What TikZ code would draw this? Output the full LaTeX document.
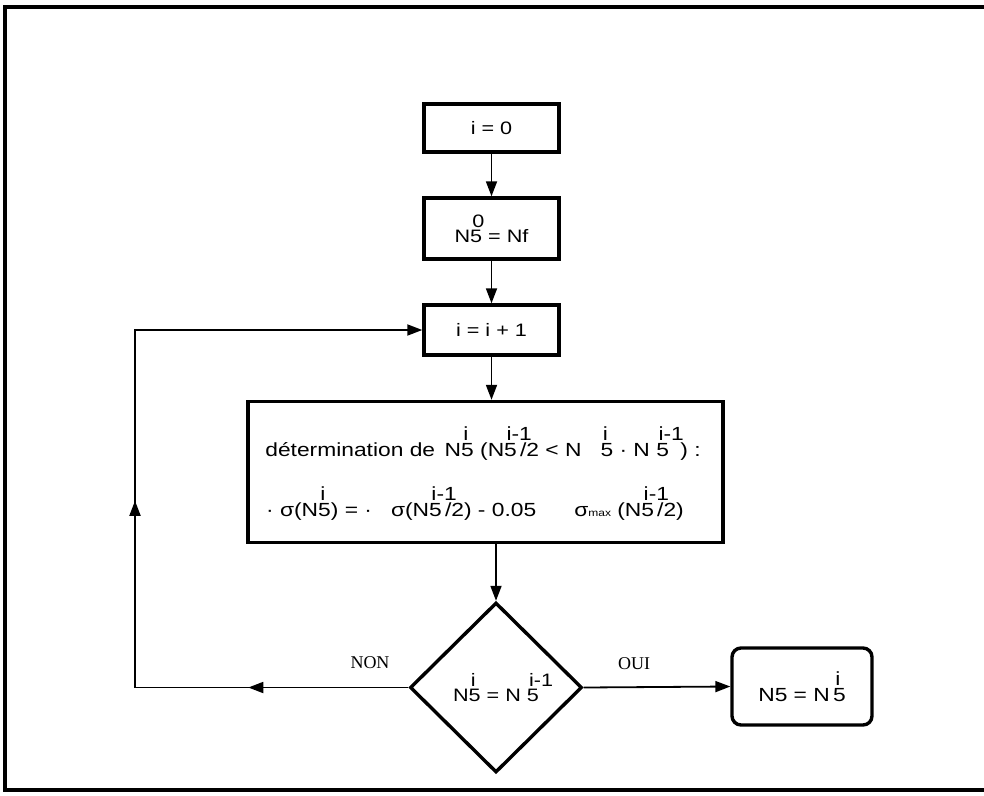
\documentclass[tikz,border=0pt]{standalone}
\usepackage{fontspec}
\setmainfont[FakeStretch=1.2]{Liberation Sans}
\newfontfamily\labelfont{Liberation Serif}
\usetikzlibrary{shapes.geometric,arrows.meta,decorations.markings}
\newcommand\stk[2]{\rlap{\hspace{0.12em}\raisebox{0.83em}{#2}}#1}
\tikzset{
  boxst/.style={draw, line width=3.4pt, minimum width=135pt, inner sep=0pt, font=\fontsize{18}{20}\selectfont},
  conn/.style={line width=1.8pt},
  tip/.tip={Triangle[length=15pt,width=11pt]},
  lab/.style={font=\labelfont\fontsize{18}{20}\selectfont},
  txt/.style={font=\fontsize{19}{21}\selectfont, inner sep=0pt}
}
\begin{document}
\begin{tikzpicture}[x=1pt,y=-1pt]
\useasboundingbox (0,0) rectangle (984,795);
\clip (0,0) rectangle (984,795);
\draw[line width=3.5pt] (5,7) rectangle (995,790);

\node[boxst, minimum height=48pt] (b0) at (491.5,128) {i = 0};
\node[boxst, minimum height=61pt] (b1) at (491.5,228.5) {N\stk{5}{0} = Nf};
\node[boxst, minimum height=50pt] (b2) at (491.5,330) {i = i + 1};
\node[draw, line width=3.4pt, minimum width=475pt, minimum height=141pt, inner sep=0pt] (big) at (485.5,472) {};
\node[txt, anchor=base] (t1) at (483,456) {détermination de \,N\stk{5}{i} (N\stk{5}{i-1}\,/2 < N\quad\stk{5}{i} · N \stk{5}{i-1}\hspace{0.6em}) :};
\node[txt, anchor=base] (t2) at (475,516) {· σ(N\stk{5}{i}) = ·\quad σ(N\stk{5}{i-1}\,/2) - 0.05\qquad σ{\fontsize{10}{10}\selectfont max} (N\stk{5}{i-1}\,/2)};
\node[diamond, draw, line width=3.4pt, minimum width=172pt, minimum height=170pt, inner sep=0pt, font=\fontsize{18}{20}\selectfont] (dia) at (496,687.5) {N\stk{5}{i} = N \stk{5}{i-1}\hspace{0.5em}};
\node[draw, line width=3.4pt, rounded corners=9pt, minimum width=140pt, minimum height=77pt, inner sep=0pt, font=\fontsize{19}{21}\selectfont] (res) at (802,686.5) {N5 = N\,\stk{5}{i}};

\coordinate (c1) at (135,687.5);
\coordinate (c2) at (135,330);

\draw[conn,-tip] (b0) -- (b1);
\draw[conn,-tip] (b1) -- (b2);
\draw[conn,-tip] (b2) -- (b2 |- big.north);
\draw[conn,-tip] (big.south -| dia.north) -- (dia.north);
\draw[conn,-tip] (dia.east) -- (res.west);
\draw[conn,-tip, postaction={decorate}, decoration={markings,
   mark=at position 160pt with {\arrow{tip}},
   mark=at position 460pt with {\arrow{tip}}}]
   (dia.west) -- (c1) -- (c2) -- (b2.west);

\node[lab] (non) at (370,663) {NON};
\node[lab] (oui) at (634,664) {OUI};
\end{tikzpicture}
\end{document}
